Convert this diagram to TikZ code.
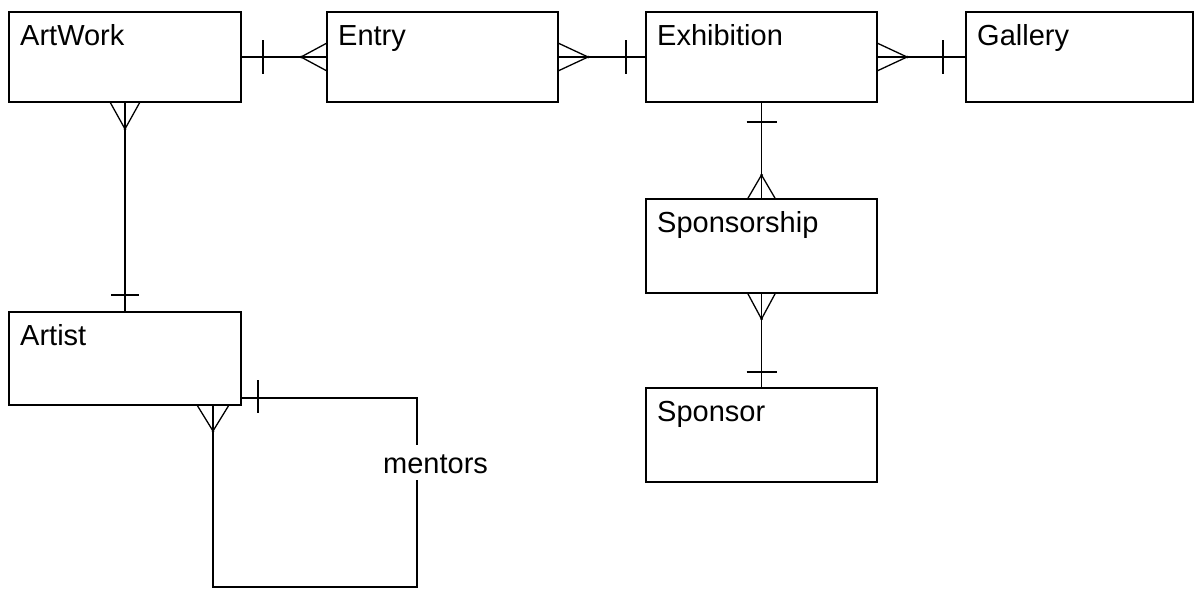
\documentclass[tikz,border=0pt]{standalone}
\usepackage{fontspec}
\setmainfont{Liberation Sans}
% crow's foot: anchor, tip offset, two prong offsets
\newcommand\crowfoot[4]{%
  \draw[conn] ([shift={(#3)}]#1) -- ([shift={(#2)}]#1) -- ([shift={(#4)}]#1);
  \fill ([shift={(#2)}]#1) circle (1.5pt);}
% single bar: anchor, two end offsets
\newcommand\barmark[3]{%
  \draw[conn] ([shift={(#2)}]#1) -- ([shift={(#3)}]#1);}
\begin{document}
\begin{tikzpicture}[x=1pt,y=-1pt,
  ent/.style={draw, line width=1.3pt, inner sep=0pt, outer sep=0pt},
  lbl/.style={anchor=base west, inner sep=0pt, font=\fontsize{29}{34}\selectfont},
  conn/.style={line width=1.3pt}]
\useasboundingbox (0,0) rectangle (1197,589);

% entities
\node[ent, minimum width=232pt, minimum height=90pt] (artwork) at (125,57) {};
\node[ent, minimum width=231pt, minimum height=90pt] (entry) at (442.5,57) {};
\node[ent, minimum width=231pt, minimum height=90pt] (exhibition) at (761.5,57) {};
\node[ent, minimum width=227pt, minimum height=90pt] (gallery) at (1079.5,57) {};
\node[ent, minimum width=231pt, minimum height=94pt] (sponsorship) at (761.5,246) {};
\node[ent, minimum width=231pt, minimum height=94pt] (sponsor) at (761.5,435) {};
\node[ent, minimum width=232pt, minimum height=93pt] (artist) at (125,358.5) {};

% entity names
\node[lbl] (tArtwork) at ([shift={(11,33)}]artwork.north west) {ArtWork};
\node[lbl] (tEntry) at ([shift={(11,33)}]entry.north west) {Entry};
\node[lbl] (tExhibition) at ([shift={(11,33)}]exhibition.north west) {Exhibition};
\node[lbl] (tGallery) at ([shift={(11,33)}]gallery.north west) {Gallery};
\node[lbl] (tSponsorship) at ([shift={(11,33)}]sponsorship.north west) {Sponsorship};
\node[lbl] (tSponsor) at ([shift={(11,33)}]sponsor.north west) {Sponsor};
\node[lbl] (tArtist) at ([shift={(11,33)}]artist.north west) {Artist};

% relationships
\draw[conn] (artwork.east) -- (entry.west);
\draw[conn] (entry.east) -- (exhibition.west);
\draw[conn] (exhibition.east) -- (gallery.west);
\draw[conn] (exhibition.south) -- (sponsorship.north);
\draw[conn] (sponsorship.south) -- (sponsor.north);
\draw[conn] (artwork.south) -- (artist.north);

% cardinality marks
\barmark{artwork.east}{22,-17}{22,17}
\crowfoot{entry.west}{-26,0}{0,-14}{0,14}
\crowfoot{entry.east}{30,0}{0,-14}{0,14}
\barmark{exhibition.west}{-20,-17}{-20,17}
\crowfoot{exhibition.east}{30,0}{0,-14}{0,14}
\barmark{gallery.west}{-23,-17}{-23,17}
\barmark{exhibition.south}{-15,20}{15,20}
\crowfoot{sponsorship.north}{0,-24}{-14,0}{14,0}
\crowfoot{sponsorship.south}{0,26}{-14,0}{14,0}
\barmark{sponsor.north}{-15,-16}{15,-16}
\crowfoot{artwork.south}{0,27}{-15,0}{15,0}
\barmark{artist.north}{-14,-17}{14,-17}

% recursive "mentors" relationship
\coordinate (mstart) at ([yshift=7pt]artist.south east);
\coordinate (mfoot) at ([xshift=88pt]artist.south);
\coordinate (mtop) at (417,445);
\coordinate (mbot) at (417,480);
\coordinate (mcorner) at (417,587);
\node[lbl] (mentors) at (383,473) {mentors};
\draw[conn] (mstart) -| (mtop);
\draw[conn] (mbot) -- (mcorner) -| (mfoot);
\barmark{mstart}{17,-18}{17,15}
\crowfoot{mfoot}{0,26}{-16,0}{16,0}
\end{tikzpicture}
\end{document}
